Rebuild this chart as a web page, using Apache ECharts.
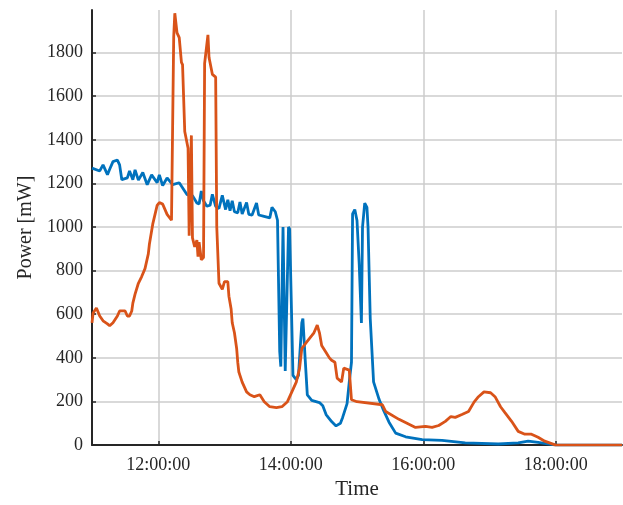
<!DOCTYPE html>
<html lang="en">
<head>
    <meta charset="UTF-8">
    <title>Power</title>
    <script src="https://cdn.jsdelivr.net/npm/echarts@6/dist/echarts.min.js"></script>
</head>
<style>
    html,body{
        margin:0;
        padding:0;
        background:#fff;
    }
    #chart{
        width:623px;
        height:505px;
    }
</style>
<body>
    <div id="chart"></div>
</body>
</html>

<script>
    // x tick labels (hours) and y ticks
    let xTicks=[12,14,16,18];
    let yTicks=[0,200,400,600,800,1000,1200,1400,1600,1800];

    // blue series
    let blueTime=['11:00','11:07','11:10','11:14','11:16','11:19','11:23','11:25','11:27','11:32','11:34','11:37','11:39','11:42','11:46','11:50','11:54','11:59','12:01','12:04','12:08','12:13','12:19','12:26','12:31','12:35','12:37','12:39','12:41','12:44','12:47','12:49','12:52','12:55','12:58','13:01','13:03','13:05','13:07','13:09','13:12','13:14','13:16','13:20','13:22','13:25','13:29','13:31','13:35','13:41','13:43','13:46','13:48','13:50','13:51','13:53','13:55','13:58','13:59','14:02','14:05','14:07','14:10','14:11','14:13','14:15','14:19','14:26','14:29','14:32','14:37','14:41','14:45','14:47','14:51','14:53','14:55','14:56','14:58','15:00','15:02','15:04','15:05','15:07','15:09','15:10','15:12','15:15','15:20','15:24','15:29','15:35','15:44','15:59','16:17','16:38','17:08','17:26','17:35','17:44','18:00','19:00'];
    let bluePower=[1270,1257,1285,1240,1265,1300,1307,1285,1217,1225,1257,1217,1262,1215,1250,1194,1239,1203,1239,1190,1225,1194,1203,1149,1144,1110,1105,1165,1120,1095,1100,1150,1095,1085,1145,1080,1125,1075,1120,1070,1065,1115,1060,1112,1058,1055,1110,1055,1050,1042,1090,1070,1031,430,360,1000,340,1000,990,320,300,320,560,580,400,230,205,195,180,140,108,88,100,127,190,290,380,1060,1080,1030,830,560,1000,1110,1090,1000,580,290,210,160,105,55,38,25,22,10,5,10,18,12,0,0];

    // orange series
    let orangeTime=['11:00','11:01','11:04','11:05','11:07','11:10','11:14','11:16','11:19','11:23','11:25','11:30','11:32','11:34','11:36','11:37','11:39','11:42','11:45','11:48','11:51','11:52','11:55','11:59','12:01','12:04','12:08','12:12','12:13','12:14','12:15','12:17','12:19','12:21','12:22','12:24','12:27','12:28','12:30','12:31','12:33','12:35','12:36','12:37','12:39','12:41','12:42','12:45','12:46','12:49','12:52','12:53','12:55','12:58','13:00','13:03','13:04','13:06','13:07','13:09','13:11','13:12','13:13','13:16','13:20','13:23','13:27','13:32','13:36','13:41','13:47','13:52','13:57','14:01','14:05','14:08','14:10','14:14','14:19','14:21','14:24','14:26','14:28','14:32','14:35','14:37','14:40','14:42','14:46','14:48','14:53','14:55','15:00','15:23','15:26','15:38','15:53','16:02','16:08','16:14','16:20','16:25','16:29','16:35','16:41','16:46','16:50','16:55','17:01','17:05','17:10','17:14','17:20','17:26','17:32','17:38','17:44','17:50','18:00','19:00'];
    let orangePower=[560,606,629,638,592,570,556,547,561,592,615,615,592,592,615,651,692,742,773,809,877,922,1013,1099,1112,1105,1058,1031,1040,1872,1980,1890,1868,1755,1745,1438,1361,960,1420,950,909,940,864,931,850,860,1750,1881,1777,1700,1687,1000,742,714,750,750,683,624,561,515,443,380,335,289,244,231,222,231,199,176,172,176,199,244,289,353,443,470,502,515,550,515,457,425,400,389,380,307,289,353,344,208,199,185,154,118,81,86,81,90,109,131,127,140,154,197,222,244,240,222,176,149,109,63,50,50,36,18,0,0];

    function toHours(s){
        let [h,m]=s.split(':').map(Number);
        return h+m/60;
    }
    function pairs(times,vals){
        return times.map((t,i)=>[toHours(t),vals[i]]);
    }

    let font='"Liberation Serif", "Times New Roman", serif';
    let textColor='#262626';
    let gridStyle={color:'#cccccc',width:1.5};

    let chart=echarts.init(document.getElementById('chart'));
    chart.setOption({
        animation:false,
        grid:{left:92,right:1,top:10,bottom:54,containLabel:false},
        xAxis:{
            type:'value',
            min:11,
            max:19,
            name:'Time',
            nameLocation:'middle',
            nameGap:29,
            nameTextStyle:{fontFamily:font,fontSize:21,color:textColor},
            axisLine:{show:true,onZero:false,lineStyle:{color:'#262626',width:2}},
            axisTick:{show:true,inside:true,length:4,customValues:xTicks,lineStyle:{color:'#262626',width:1.5}},
            axisLabel:{
                customValues:xTicks,
                margin:11,
                fontFamily:font,fontSize:18,color:textColor,
                formatter:v=>String(v).padStart(2,'0')+':00:00'
            },
            splitLine:{show:true,lineStyle:gridStyle}
        },
        yAxis:{
            type:'value',
            min:0,
            max:1995,
            name:'Power [mW]',
            nameLocation:'middle',
            nameGap:55,
            nameTextStyle:{fontFamily:font,fontSize:20,color:textColor},
            axisLine:{show:true,lineStyle:{color:'#262626',width:2}},
            axisTick:{show:true,inside:true,length:4,customValues:yTicks,lineStyle:{color:'#262626',width:1.5}},
            axisLabel:{
                customValues:yTicks,
                margin:9,
                fontFamily:font,fontSize:18,color:textColor,
                formatter:v=>String(v)
            },
            splitLine:{show:true,lineStyle:gridStyle}
        },
        series:[
            {
                name:'blue',
                type:'line',
                data:pairs(blueTime,bluePower),
                showSymbol:false,
                lineStyle:{color:'#0072BD',width:2.8},
                itemStyle:{color:'#0072BD'}
            },
            {
                name:'orange',
                type:'line',
                data:pairs(orangeTime,orangePower),
                showSymbol:false,
                lineStyle:{color:'#D95319',width:2.8},
                itemStyle:{color:'#D95319'}
            }
        ]
    });
</script>
